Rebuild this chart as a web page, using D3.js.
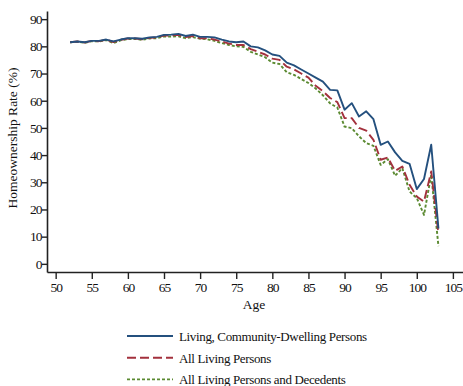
<!DOCTYPE html>
<html>
<head>
<meta charset="utf-8">
<script src="https://cdn.jsdelivr.net/npm/d3@7"></script>
<style>
  body { margin: 0; background: #fff; }
</style>
</head>
<body>
<div id="chart"></div>
<script>
var WIDTH = 463
var HEIGHT = 386
var FONT = 'Liberation Serif'

// ages 52..103
var ages = d3.range(52, 104)

var community = [81.5, 81.8, 81.5, 82.0, 82.0, 82.5, 81.8, 82.5, 83.0, 83.0,
  82.8, 83.3, 83.5, 84.2, 84.3, 84.6, 83.8, 84.3, 83.5, 83.5,
  83.3, 82.5, 81.8, 81.5, 81.8, 80.0, 79.6, 78.5, 77.0, 76.5,
  74.0, 73.0, 71.5, 70.0, 68.5, 67.0, 64.0, 63.8, 56.7, 59.1,
  54.2, 56.1, 53.2, 43.8, 45.0, 41.0, 37.9, 36.8, 27.5, 31.2,
  43.8, 13.0]

var living = [81.5, 81.8, 81.4, 82.0, 81.9, 82.4, 81.6, 82.4, 82.9, 82.9,
  82.6, 83.1, 83.3, 84.0, 84.0, 84.2, 83.4, 83.8, 83.0, 83.0,
  82.5, 81.8, 81.0, 80.5, 80.5, 79.0, 78.0, 77.0, 75.5, 75.0,
  72.5, 71.5, 70.0, 68.5, 65.5, 63.5, 61.0, 59.5, 53.6, 53.6,
  50.0, 49.0, 45.6, 38.3, 39.1, 34.2, 35.8, 29.1, 24.8, 22.9,
  34.0, 11.0]

var decedents = [81.5, 81.7, 81.3, 81.9, 81.8, 82.3, 81.2, 82.2, 82.7, 82.7,
  82.4, 82.9, 83.0, 83.6, 83.6, 83.7, 83.0, 83.4, 82.8, 82.6,
  82.0, 81.2, 80.5, 80.0, 79.8, 78.0, 77.0, 76.0, 74.0, 73.5,
  70.5, 69.5, 68.0, 66.5, 64.5, 62.0, 59.0, 57.5, 50.5, 49.9,
  46.9, 44.4, 43.4, 36.4, 38.5, 32.4, 35.2, 26.6, 24.2, 18.0,
  32.8, 6.5]

var xTicks = d3.range(50, 106, 5)
var yTicks = d3.range(0, 91, 10)

var seriesNames = ['Living, Community-Dwelling Persons', 'All Living Persons', 'All Living Persons and Decedents']
var seriesColors = ['#24507e', '#a3313d', '#5b8a31']
var seriesDash = [null, '9,4', '3,2']
var seriesValues = [community, living, decedents]

var svg = d3.select('#chart').append('svg')
  .attr('width', WIDTH)
  .attr('height', HEIGHT)
  .attr('font-family', FONT)

var x = d3.scaleLinear().domain([48.8, 106.4]).range([47, 463])
var y = d3.scaleLinear().domain([-3, 93]).range([272, 11])

// axes
var xAxis = svg.append('g')
  .attr('transform', 'translate(0,272)')
  .call(d3.axisBottom(x).tickValues(xTicks).tickSize(7).tickSizeOuter(0))
var yAxis = svg.append('g')
  .attr('transform', 'translate(47,0)')
  .call(d3.axisLeft(y).tickValues(yTicks).tickSize(5).tickSizeOuter(0))

svg.selectAll('g').attr('font-family', FONT)
svg.selectAll('.domain').attr('stroke', '#222').attr('stroke-width', 1.6)
svg.selectAll('.tick line').attr('stroke', '#222').attr('stroke-width', 1.4)
svg.selectAll('.tick text')
  .attr('fill', '#111')
  .attr('font-family', FONT)
  .attr('font-size', 13.5)
  .attr('letter-spacing', -1)
xAxis.selectAll('.tick text').attr('dy', '0.85em').attr('y', 9)
yAxis.selectAll('.tick text').attr('x', -5.5)

// axis titles
svg.append('text')
  .attr('x', 254)
  .attr('y', 309)
  .attr('text-anchor', 'middle')
  .attr('font-family', FONT)
  .attr('font-size', 13.5)
  .attr('fill', '#111')
  .text('Age')

svg.append('text')
  .attr('transform', 'translate(17,138) rotate(-90)')
  .attr('text-anchor', 'middle')
  .attr('font-family', FONT)
  .attr('font-size', 13.5)
  .attr('fill', '#111')
  .text('Homeownership Rate (%)')

// lines
var line = d3.line()
  .x(function (d, i) { return x(ages[i]) })
  .y(function (d) { return y(d) })

for (var s = 2; s >= 0; s--) {
  svg.append('path')
    .datum(seriesValues[s])
    .attr('fill', 'none')
    .attr('stroke', seriesColors[s])
    .attr('stroke-width', 1.9)
    .attr('stroke-linejoin', 'round')
    .attr('stroke-dasharray', seriesDash[s])
    .attr('d', line)
}

// legend
var legend = svg.append('g')
for (var k = 0; k < seriesNames.length; k++) {
  var ly = 336 + k * 21.7
  legend.append('line')
    .attr('x1', 127).attr('x2', 173)
    .attr('y1', ly).attr('y2', ly)
    .attr('stroke', seriesColors[k])
    .attr('stroke-width', 1.9)
    .attr('stroke-dasharray', seriesDash[k])
  legend.append('text')
    .attr('x', 179)
    .attr('y', ly + 5)
    .attr('font-family', FONT)
    .attr('font-size', 13)
    .attr('letter-spacing', -0.35)
    .attr('fill', '#111')
    .text(seriesNames[k])
}
</script>
</body>
</html>
